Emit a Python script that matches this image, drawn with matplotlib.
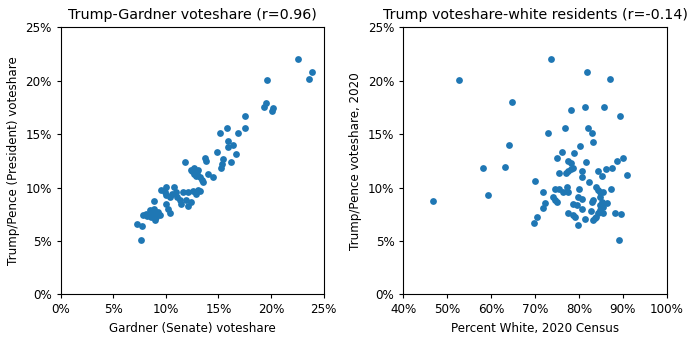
import matplotlib.pyplot as plt
from matplotlib.ticker import PercentFormatter

# left panel: Gardner (Senate) share vs Trump/Pence share, in percent
gardner = [22.6, 23.9, 23.6, 19.6, 19.5, 19.3, 20.2, 20.1, 17.5, 15.8, 17.5, 15.1, 16.9,
           15.9, 16.4, 15.9, 14.9, 16.7, 13.7, 13.8, 11.8, 15.4, 15.3, 16.2, 15.2,
           12.4, 12.7, 13.1, 12.7, 12.9, 13.2, 13.4, 13.5, 14.0, 14.5,
           9.5, 10.05, 10.8, 9.9, 10.4, 10.05, 10.2, 10.4, 11.0, 11.05, 11.3, 11.6, 12.1,
           12.6, 13.1, 11.95, 12.1, 12.9, 13.2,
           8.9, 7.6, 7.3, 7.7, 7.8, 8.5, 8.9, 9.25, 8.6, 9.1, 9.4, 8.15, 8.2, 8.8,
           10.0, 10.6, 11.4, 12.4, 9.0, 8.7, 12.5, 13.0]
trump_l = [22.0, 20.8, 20.2, 20.1, 17.9, 17.5, 17.4, 17.2, 16.7, 15.6, 15.6, 15.1, 15.1,
           14.35, 14.0, 13.8, 13.3, 13.1, 12.8, 12.5, 12.4, 12.7, 12.2, 12.4, 11.8,
           11.6, 11.8, 11.6, 11.3, 11.1, 11.0, 10.7, 10.5, 11.3, 11.0,
           9.8, 10.05, 10.05, 9.6, 9.1, 8.5, 8.0, 7.6, 9.6, 9.1, 8.8, 9.6, 9.6,
           9.7, 9.8, 8.8, 8.3, 9.4, 9.7,
           8.7, 5.1, 6.6, 6.4, 7.4, 7.9, 8.0, 7.7, 7.2, 7.2, 7.4, 7.55, 7.3, 7.5,
           9.3, 9.4, 8.5, 8.6, 7.0, 7.7, 11.5, 11.3]

# right panel: percent white (2020 census) vs Trump/Pence share
white = [46.7, 52.7, 58.2, 59.3, 63.1, 64.1, 64.8, 69.75, 70.5, 71.7, 72.2, 71.7, 69.9,
         72.9, 73.7, 74.1, 74.5, 74.9, 74.5, 75.5, 76.4, 77.2, 77.6, 75.4, 74.9, 76.2,
         76.9, 77.0, 77.6, 78.1, 78.7, 77.5, 78.3, 78.8, 78.1, 77.5, 78.7, 79.2, 78.6,
         79.6, 79.7, 80.1, 79.8, 80.6, 80.6, 80.8, 80.2, 81.5, 81.3, 81.8, 82.1, 83.0,
         83.3, 82.2, 81.3, 82.9, 83.3, 82.7, 83.1, 83.6, 83.9, 84.4, 84.8, 85.5, 87.3,
         84.4, 85.2, 86.2, 87.5, 88.7, 90.1, 90.9, 85.8, 87.0, 89.4, 89.1, 88.2, 89.5,
         84.8, 85.2, 85.5, 86.4, 84.8, 84.4, 85.5, 84.0, 84.8, 80.8]
trump_r = [8.76, 20.1, 11.85, 9.33, 11.9, 14.0, 17.98, 6.65, 7.24, 8.05, 8.55, 9.55, 10.6,
           15.1, 22.0, 9.14, 8.8, 8.67, 9.86, 9.86, 9.6, 10.07, 9.6, 11.4, 12.8, 13.3,
           15.6, 11.4, 11.5, 11.7, 11.8, 12.5, 12.3, 13.2, 17.26, 7.58, 7.42, 7.27, 8.43,
           8.36, 6.46, 9.86, 9.08, 8.95, 11.0, 11.5, 13.9, 12.4, 17.5, 20.8, 15.6, 15.1,
           14.3, 10.5, 7.05, 8.67, 8.83, 7.77, 6.96, 7.12, 10.07, 9.77, 9.6, 9.6, 9.86,
           11.5, 11.1, 11.7, 11.8, 12.45, 12.8, 11.17, 17.57, 20.2, 16.7, 5.08, 7.64, 7.52,
           9.14, 8.67, 8.2, 8.58, 7.89, 7.58, 7.64, 7.27, 8.36, 7.99]

fs = 8.6
fig = plt.figure(figsize=(7, 3.4), dpi=100)
ax1 = fig.add_axes([0.0867, 0.1344, 0.3757, 0.7853])
ax2 = fig.add_axes([0.5763, 0.1344, 0.3761, 0.7853])

ax1.scatter(gardner, trump_l, s=24, color='#1f77b4', linewidths=0)
ax1.set_xlim(0, 25)
ax1.set_ylim(0, 25)
ax1.set_title('Trump-Gardner voteshare (r=0.96)', fontsize=10.3)
ax1.set_xlabel('Gardner (Senate) voteshare', fontsize=fs)
ax1.set_ylabel('Trump/Pence (President) voteshare', fontsize=fs)

ax2.scatter(white, trump_r, s=24, color='#1f77b4', linewidths=0)
ax2.set_xlim(40, 100)
ax2.set_ylim(0, 25)
ax2.set_title('Trump voteshare-white residents (r=-0.14)', fontsize=10.3)
ax2.set_xlabel('Percent White, 2020 Census', fontsize=fs)
ax2.set_ylabel('Trump/Pence voteshare, 2020', fontsize=fs)

for ax in (ax1, ax2):
    ax.xaxis.set_major_formatter(PercentFormatter(xmax=100, decimals=0))
    ax.yaxis.set_major_formatter(PercentFormatter(xmax=100, decimals=0))
    ax.set_yticks([0, 5, 10, 15, 20, 25])
    ax.tick_params(labelsize=fs, length=3)
ax1.set_xticks([0, 5, 10, 15, 20, 25])
ax2.set_xticks([40, 50, 60, 70, 80, 90, 100])

plt.savefig('out.png')
